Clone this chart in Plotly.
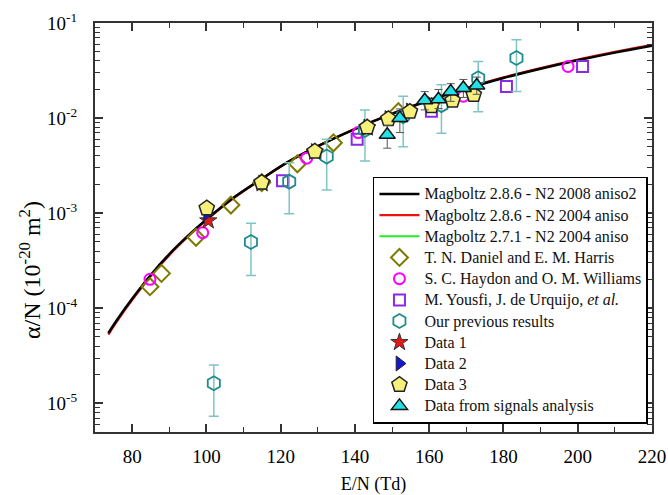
import plotly.graph_objects as go

# ---- Magboltz curves ----
curve_x = [73.6, 76, 80, 85, 90, 95, 100, 107, 115, 122, 130, 140, 150, 160, 170, 180, 190, 200, 210, 220]
mag_286_2008 = [5.50e-5, 7.64e-5, 1.26e-4, 2.24e-4, 3.72e-4, 5.78e-4, 8.61e-4, 1.43e-3, 2.32e-3, 3.47e-3,
                5.07e-3, 7.67e-3, 0.01109, 0.01531, 0.0204, 0.0264, 0.0330, 0.0405, 0.0488, 0.0577]
mag_286_2004 = [5.30e-5, 7.40e-5, 1.22e-4, 2.17e-4, 3.62e-4, 5.65e-4, 8.45e-4, 1.41e-3, 2.30e-3, 3.46e-3,
                5.07e-3, 7.72e-3, 0.0112, 0.0155, 0.0207, 0.0268, 0.0336, 0.0413, 0.0498, 0.0590]
mag_271_2004 = [5.40e-5, 7.50e-5, 1.24e-4, 2.20e-4, 3.67e-4, 5.70e-4, 8.52e-4, 1.42e-3, 2.31e-3, 3.46e-3,
                5.07e-3, 7.70e-3, 0.0111, 0.0154, 0.0205, 0.0266, 0.0333, 0.0409, 0.0493, 0.0583]

# ---- Daniel & Harris ----
dh_x = [84.8, 87.9, 97.2, 106.6, 114.9, 124.5, 134.2, 151.7]
dh_y = [1.69e-4, 2.33e-4, 5.58e-4, 1.22e-3, 2.10e-3, 3.31e-3, 5.50e-3, 0.0117]

# ---- Haydon & Williams ----
hw_x = [84.8, 99.0, 127.0, 140.9, 169.2, 197.4]
hw_y = [2.02e-4, 6.25e-4, 3.79e-3, 7.05e-3, 0.0170, 0.0349]

# ---- Yousfi, de Urquijo et al. ----
yu_x = [120.5, 140.6, 160.6, 180.8, 201.3]
yu_y = [2.20e-3, 6.00e-3, 0.0118, 0.0215, 0.0349]

# ---- Our previous results (with error bars) ----
pr_x = [102.0, 112.0, 122.3, 132.4, 142.7, 153.0, 163.3, 173.2, 183.5]
pr_y = [1.63e-5, 4.99e-4, 2.15e-3, 3.94e-3, 7.5e-3, 0.0105, 0.0137, 0.0262, 0.0428]
pr_hi = [2.53e-5, 7.85e-4, 3.40e-3, 6.00e-3, 0.0122, 0.0170, 0.0224, 0.0394, 0.0667]
pr_lo = [7.35e-6, 2.22e-4, 9.85e-4, 1.76e-3, 3.55e-3, 5.0e-3, 6.95e-3, 0.0117, 0.0190]

# ---- Data 1 / Data 2 / Data 3 ----
d1_x = [100.5, 115.0, 129.2, 143.3]
d1_y = [8.35e-4, 2.05e-3, 4.40e-3, 7.9e-3]
d2_x = [100.2, 115.0, 129.2, 143.3, 149.0, 154.8, 160.6, 166.3, 172.0]
d2_y = [1.00e-3, 2.10e-3, 4.50e-3, 8.1e-3, 0.0100, 0.0120, 0.0140, 0.0165, 0.0185]
d3_x = [100.1, 114.9, 129.2, 143.3, 149.0, 154.8, 160.6, 166.3, 172.0]
d3_y = [1.13e-3, 2.10e-3, 4.46e-3, 8.0e-3, 9.8e-3, 0.0117, 0.0134, 0.0153, 0.0176]

# ---- Data from signals analysis (with error bars) ----
sa_x = [148.7, 152.1, 158.8, 162.5, 165.8, 169.2, 172.8]
sa_y = [6.67e-3, 0.0100, 0.0154, 0.0158, 0.0190, 0.0207, 0.0220]
sa_hi = [8.4e-3, 0.0125, 0.0190, 0.0200, 0.0230, 0.0255, 0.0270]
sa_lo = [4.83e-3, 7.05e-3, 0.0122, 0.0126, 0.0150, 0.0165, 0.0178]

x_ticks = [80, 100, 120, 140, 160, 180, 200, 220]
y_ticks = [1e-5, 1e-4, 1e-3, 1e-2, 1e-1]
y_ticktext = ["10<sup>-5</sup>", "10<sup>-4</sup>", "10<sup>-3</sup>", "10<sup>-2</sup>", "10<sup>-1</sup>"]

FONT = "Liberation Serif"


def lg(s):
    return '<span style="font-size:16px">' + s + '</span>'


fig = go.Figure()

fig.add_trace(go.Scatter(x=curve_x, y=mag_271_2004, mode="lines", line=dict(color="#22ee22", width=2, shape="spline"),
                         name=lg("Magboltz 2.7.1 - N2 2004 aniso"), legendrank=3))
fig.add_trace(go.Scatter(x=curve_x, y=mag_286_2004, mode="lines", line=dict(color="#ee1111", width=2.2, shape="spline"),
                         name=lg("Magboltz 2.8.6 - N2 2004 aniso"), legendrank=2))
fig.add_trace(go.Scatter(x=curve_x, y=mag_286_2008, mode="lines", line=dict(color="black", width=2.5, shape="spline"),
                         name=lg("Magboltz 2.8.6 - N2 2008 aniso2"), legendrank=1))

fig.add_trace(go.Scatter(x=dh_x, y=dh_y, mode="markers", name=lg("T. N. Daniel and E. M. Harris"), legendrank=4,
                         marker=dict(symbol="diamond-open", size=13, color="#7d7a00", line=dict(width=2))))
fig.add_trace(go.Scatter(x=hw_x, y=hw_y, mode="markers", name=lg("S. C. Haydon and O. M. Williams"), legendrank=5,
                         marker=dict(symbol="circle-open", size=11, color="#ff00ff", line=dict(width=2))))
fig.add_trace(go.Scatter(x=yu_x, y=yu_y, mode="markers", name=lg("M. Yousfi, J. de Urquijo, <i>et al.</i>"), legendrank=6,
                         marker=dict(symbol="square-open", size=11, color="#8a2be2", line=dict(width=2))))

pr_plus = [h - v for h, v in zip(pr_hi, pr_y)]
pr_minus = [v - l for l, v in zip(pr_lo, pr_y)]
fig.add_trace(go.Scatter(x=pr_x, y=pr_y, mode="markers", name=lg("Our previous results"), legendrank=7,
                         marker=dict(symbol="hexagon-open", size=14, color="#1e8c8c", line=dict(width=1.8)),
                         error_y=dict(type="data", array=pr_plus, arrayminus=pr_minus, color="#80c4c4",
                                      thickness=1.5, width=5)))

fig.add_trace(go.Scatter(x=d1_x, y=d1_y, mode="markers", name=lg("Data 1"), legendrank=8,
                         marker=dict(symbol="star", size=13, color="#e01818", line=dict(width=1, color="#333"))))
fig.add_trace(go.Scatter(x=d2_x, y=d2_y, mode="markers", name=lg("Data 2"), legendrank=9,
                         marker=dict(symbol="triangle-right", size=13, color="#1515d8", line=dict(width=1, color="#222"))))
fig.add_trace(go.Scatter(x=d3_x, y=d3_y, mode="markers", name=lg("Data 3"), legendrank=10,
                         marker=dict(symbol="pentagon", size=16, color="#f7f07a", line=dict(width=1.5, color="#222"))))

sa_plus = [h - v for h, v in zip(sa_hi, sa_y)]
sa_minus = [v - l for l, v in zip(sa_lo, sa_y)]
fig.add_trace(go.Scatter(x=sa_x, y=sa_y, mode="markers", name=lg("Data from signals analysis"), legendrank=11,
                         marker=dict(symbol="triangle-up", size=14, color="#22e0e8", line=dict(width=1.5, color="#111")),
                         error_y=dict(type="data", array=sa_plus, arrayminus=sa_minus, color="#555555",
                                      thickness=1, width=4)))

y_minor = [m * 10 ** k for k in range(-6, -1) for m in range(2, 10)]

fig.update_layout(
    width=668, height=495,
    margin=dict(l=95, r=16, t=23, b=63),
    paper_bgcolor="white", plot_bgcolor="white",
    font=dict(family=FONT, color="black", size=16),
    showlegend=True,
    legend=dict(x=0.499, y=0.624, xanchor="left", yanchor="top", bgcolor="white",
                bordercolor="black", borderwidth=1.5, font=dict(family=FONT, size=14, color="#111"),
                itemwidth=40, tracegroupgap=0),
    annotations=[dict(text="α/N (10<sup>-20</sup> m<sup>2</sup>)", textangle=-90, xref="paper", yref="paper",
                      x=0, y=0.396, xanchor="center", yanchor="middle", xshift=-65, showarrow=False,
                      font=dict(family=FONT, size=24, color="black"))],
)
fig.update_xaxes(range=[70, 220], tickvals=x_ticks, ticks="inside", ticklen=8, tickwidth=1.5, tickcolor="#333",
                 showline=True, linecolor="#333", linewidth=2, mirror="allticks", showgrid=False, zeroline=False,
                 tickfont=dict(family=FONT, size=19), ticklabelstandoff=6, automargin=False,
                 minor=dict(dtick=10, ticks="inside", ticklen=5, tickwidth=1.2, tickcolor="#333", showgrid=False),
                 title=dict(text="E/N (Td)", font=dict(family=FONT, size=18), standoff=18))
fig.update_yaxes(type="log", range=[-5.3, -1], tickvals=y_ticks, ticktext=y_ticktext, ticks="inside", ticklen=8,
                 tickwidth=1.5, tickcolor="#333", showline=True, linecolor="#333", linewidth=2, mirror="allticks",
                 showgrid=False, zeroline=False, tickfont=dict(family=FONT, size=19), ticklabelstandoff=12,
                 automargin=False,
                 minor=dict(tickmode="array", tickvals=y_minor, ticks="inside", ticklen=5, tickwidth=1.2,
                            tickcolor="#333", showgrid=False))

fig.write_html("out.html")
